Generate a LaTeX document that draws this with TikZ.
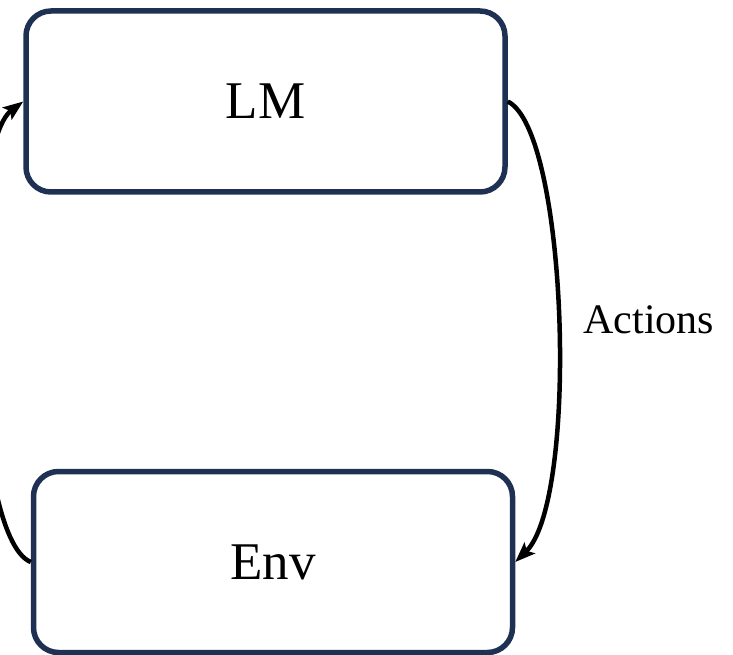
\documentclass[tikz,border=0pt]{standalone}
\usepackage{fontspec}
\setmainfont{Liberation Serif}
\usetikzlibrary{arrows.meta,calc}
\definecolor{navy}{HTML}{1F3152}
\begin{document}
\begin{tikzpicture}[x=1pt,y=-1pt,
  block/.style={draw=navy,line width=5.5pt,rounded corners=25pt,
    minimum width=479pt,minimum height=181pt,inner sep=0pt,
    font=\fontsize{53}{60}\selectfont},
  flow/.style={line width=4.5pt,-{Stealth[length=20pt,width=15pt,inset=4pt]}}]
\useasboundingbox (0,0) rectangle (733,655);
\node[block] (lm) at (265.5,101.5) {LM};
\node[block] (env) at (273,562) {Env};
\draw[flow] (lm.east) .. controls ($(lm.east)+(60,29)$) and ($(env.east)+(64,-62)$) .. (env.east)
  node[pos=0.5,right=20pt,font=\fontsize{42}{48}\selectfont] (act) {Actions};
\draw[flow] (env.west) .. controls ($(env.west)+(-62,-25)$) and ($(lm.west)+(-60,45)$) .. (lm.west);
\end{tikzpicture}
\end{document}
